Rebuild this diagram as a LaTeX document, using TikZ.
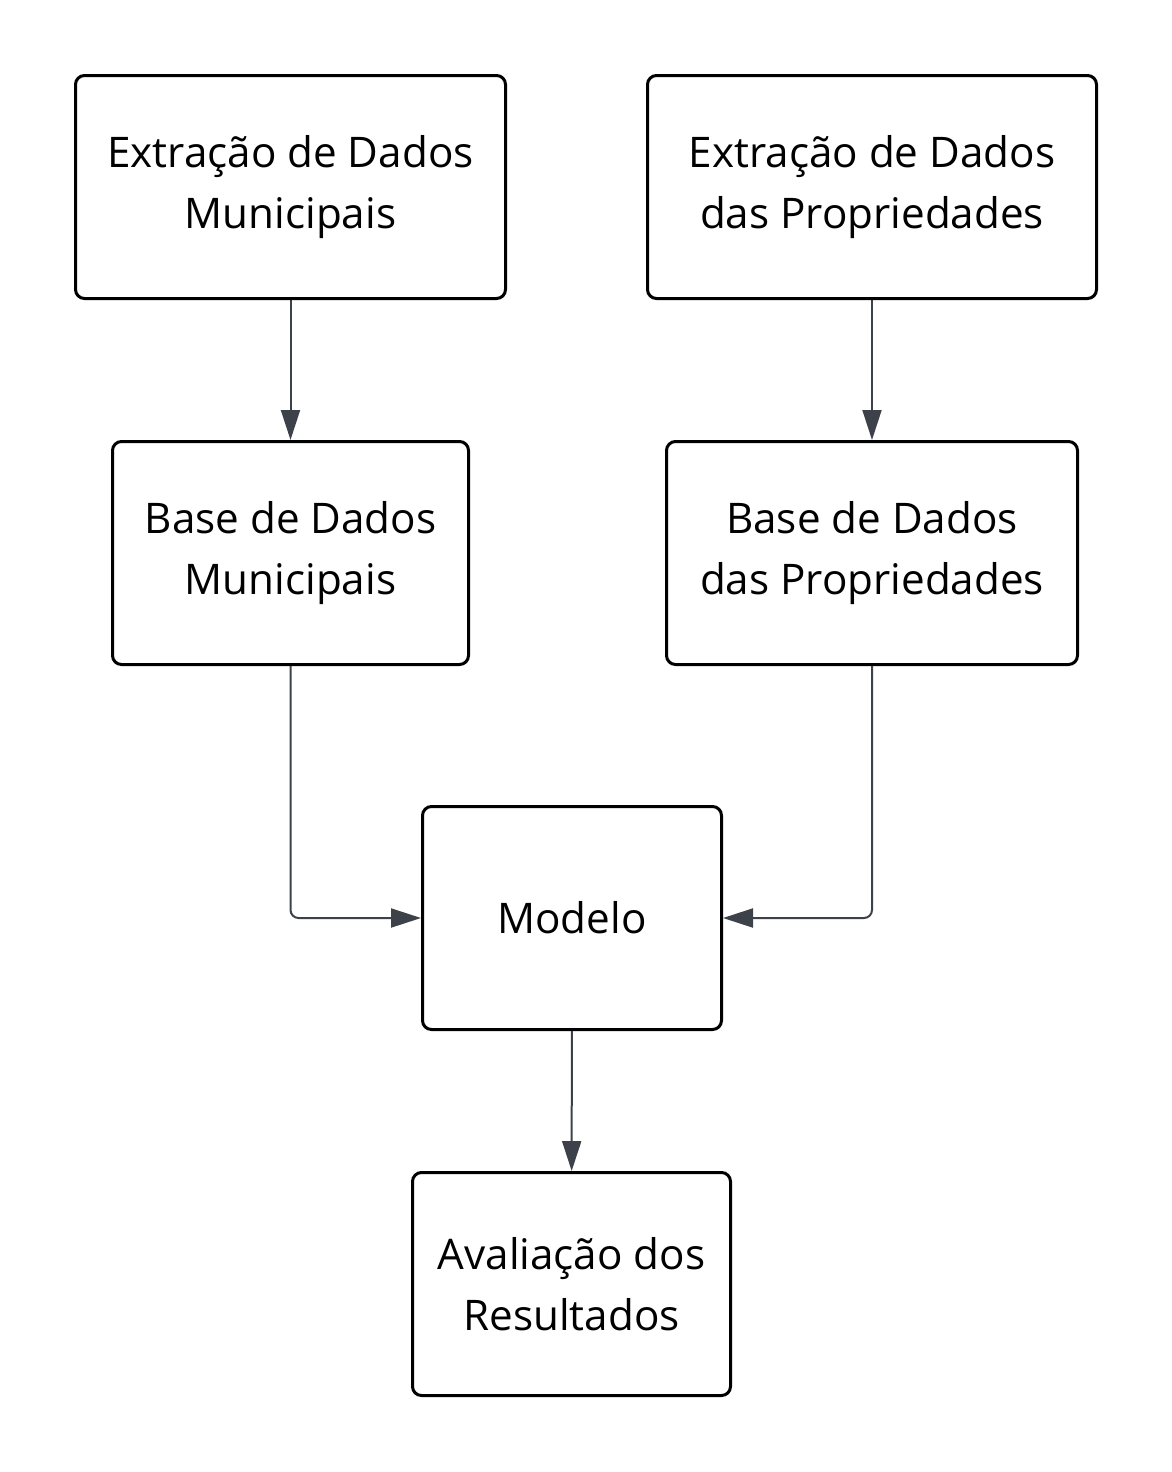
\documentclass[tikz,border=0pt]{standalone}
\usepackage{fontspec}
\setmainfont{Open Sans}
\usetikzlibrary{arrows.meta}
\definecolor{linkgray}{RGB}{61,66,74}
\begin{document}
\begin{tikzpicture}[
    >={Triangle[length=0.6cm,width=0.38cm]},
    box/.style={draw=black, line width=0.06cm, rounded corners=0.18cm, minimum height=4.46cm,
      align=center, font=\fontsize{24}{34.6}\selectfont},
    flow/.style={->, draw=linkgray, line width=0.04cm, rounded corners=0.16cm}
  ]
  \useasboundingbox (0,0) rectangle (23.44,-29.44);
  % Extraction
  \node[box, minimum width=8.6cm] (extmun) at (5.81,-3.74) {Extração de Dados\\Municipais};
  \node[box, minimum width=8.98cm] (extprop) at (17.44,-3.74) {Extração de Dados\\das Propriedades};
  % Databases
  \node[box, minimum width=7.12cm] (basemun) at (5.81,-11.06) {Base de Dados\\Municipais};
  \node[box, minimum width=8.22cm] (baseprop) at (17.44,-11.06) {Base de Dados\\das Propriedades};
  % Model and evaluation
  \node[box, minimum width=5.98cm] (modelo) at (11.44,-18.36) {Modelo};
  \node[box, minimum width=6.36cm] (aval) at (11.43,-25.68) {Avaliação dos\\Resultados};
  % Arrows
  \draw[flow] (extmun) -- (basemun);
  \draw[flow] (extprop) -- (baseprop);
  \draw[flow] (basemun.south) |- (modelo.west);
  \draw[flow] (baseprop.south) |- (modelo.east);
  \draw[flow] (modelo) -- (aval);
\end{tikzpicture}
\end{document}
